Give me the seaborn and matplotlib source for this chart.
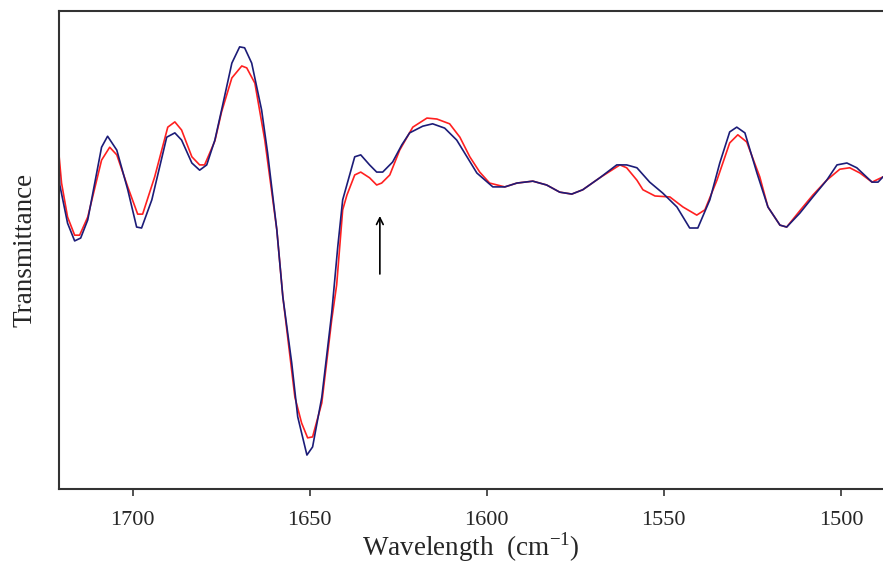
import pandas as pd
import matplotlib
matplotlib.use('Agg')
import matplotlib.pyplot as plt
import seaborn as sns

# Espectro 1 (azul)
wn_azul = [1720.9, 1720.6, 1718.4, 1716.4, 1714.7, 1712.7, 1708.8, 1707.1, 1704.5, 1701.4,
           1698.9, 1697.5, 1694.6, 1690.4, 1688.1, 1686.2, 1683.3, 1681.1, 1679.1, 1676.8,
           1674.9, 1672.0, 1669.8, 1668.4, 1666.4, 1663.6, 1661.9, 1659.3, 1657.6, 1655.1,
           1653.4, 1650.8, 1649.2, 1646.6, 1643.8, 1642.1, 1640.7, 1637.3, 1635.6, 1633.1,
           1631.1, 1629.4, 1626.6, 1624.0, 1621.8, 1618.1, 1615.3, 1611.9, 1608.5, 1605.6,
           1602.8, 1598.3, 1594.9, 1591.5, 1587.0, 1583.1, 1579.4, 1576.0, 1572.9, 1568.1,
           1563.3, 1560.5, 1557.6, 1554.0, 1550.3, 1546.3, 1542.7, 1540.4, 1537.0, 1534.2,
           1531.4, 1529.4, 1527.1, 1523.7, 1520.6, 1517.2, 1515.3, 1511.6, 1507.9, 1504.0,
           1501.1, 1498.3, 1495.5, 1491.2, 1489.5, 1488.1]
t_azul = [68.8, 63.6, 55.6, 51.9, 52.5, 56.3, 71.5, 73.8, 70.9, 62.6,
          54.8, 54.6, 60.5, 73.6, 74.5, 73.0, 68.2, 66.7, 67.8, 73.0,
          79.3, 89.1, 92.5, 92.3, 89.1, 79.3, 70.3, 54.2, 40.2, 26.4,
          15.1, 7.1, 8.8, 19.2, 36.8, 50.6, 60.5, 69.5, 69.9, 67.8,
          66.3, 66.3, 68.4, 72.0, 74.5, 75.9, 76.4, 75.5, 73.0, 69.5,
          66.1, 63.2, 63.2, 64.0, 64.4, 63.6, 62.1, 61.7, 62.6, 65.1,
          67.8, 67.8, 67.2, 64.2, 61.9, 59.0, 54.6, 54.6, 60.5, 68.2,
          74.7, 75.7, 74.5, 66.1, 59.0, 55.2, 54.8, 57.7, 61.1, 64.6,
          67.8, 68.2, 67.2, 64.2, 64.2, 65.3]

# Espectro 2 (rojo)
wn_rojo = [1720.9, 1720.1, 1718.4, 1716.4, 1715.0, 1712.7, 1708.8, 1706.5, 1704.5, 1701.4,
           1698.6, 1697.2, 1693.8, 1690.1, 1688.1, 1686.2, 1683.3, 1681.1, 1679.7, 1676.8,
           1674.9, 1672.0, 1669.2, 1667.8, 1665.5, 1662.7, 1659.3, 1657.6, 1654.2, 1652.3,
           1650.6, 1649.2, 1646.6, 1643.8, 1642.4, 1640.7, 1639.5, 1637.3, 1635.6, 1633.1,
           1631.1, 1629.7, 1627.4, 1624.6, 1620.9, 1616.9, 1614.1, 1610.5, 1607.6, 1604.8,
           1602.0, 1599.2, 1594.9, 1591.5, 1587.0, 1583.1, 1579.4, 1576.0, 1572.9, 1568.1,
           1562.4, 1560.5, 1557.6, 1555.9, 1552.5, 1548.3, 1544.6, 1540.7, 1538.4, 1535.0,
           1531.4, 1529.1, 1526.6, 1522.9, 1520.6, 1517.2, 1515.3, 1511.6, 1507.9, 1504.0,
           1500.3, 1497.5, 1494.6, 1491.2, 1488.1]
t_rojo = [70.5, 64.0, 56.9, 53.1, 53.1, 56.9, 68.8, 71.5, 69.9, 63.2,
          57.5, 57.5, 65.3, 75.7, 76.8, 75.1, 69.5, 67.8, 67.8, 72.8,
          78.9, 86.0, 88.5, 88.1, 84.9, 73.0, 54.2, 40.2, 19.2, 13.8,
          10.7, 10.9, 18.0, 35.4, 42.7, 58.4, 61.5, 65.7, 66.3, 65.1,
          63.6, 64.0, 65.7, 70.9, 75.7, 77.6, 77.4, 76.4, 73.6, 69.5,
          66.3, 64.0, 63.2, 64.0, 64.4, 63.6, 62.1, 61.7, 62.6, 65.1,
          67.8, 67.2, 64.6, 62.6, 61.3, 61.1, 59.0, 57.3, 58.4, 64.6,
          72.4, 74.1, 72.6, 65.3, 59.0, 55.2, 54.8, 58.2, 61.5, 64.6,
          66.9, 67.2, 66.1, 64.2, 65.3]

ticks_x = [1700, 1650, 1600, 1550, 1500]

azul = pd.DataFrame({'wn': wn_azul, 'T': t_azul})
rojo = pd.DataFrame({'wn': wn_rojo, 'T': t_rojo})

sns.set_style('white')
plt.rcParams['font.family'] = ['Liberation Serif', 'DejaVu Serif']
plt.rcParams['mathtext.fontset'] = 'custom'
plt.rcParams['mathtext.rm'] = 'Liberation Serif'

fig = plt.figure(figsize=(8.83, 5.64), dpi=100)
ax = fig.add_axes([0.0665, 0.133, 0.9335, 0.8475])

sns.lineplot(data=rojo, x='wn', y='T', color='#ff2020', linewidth=1.2, estimator=None, ax=ax)
sns.lineplot(data=azul, x='wn', y='T', color='#1c1c78', linewidth=1.2, estimator=None, ax=ax)

# flecha
ax.annotate('', xy=(1630.2, 57.7), xytext=(1630.2, 44.4),
            arrowprops=dict(arrowstyle='->', color='black', lw=1.2, mutation_scale=12))

ax.set_xlim(1720.9, 1488.1)
ax.set_ylim(0, 100)
ax.set_xticks(ticks_x)
ax.set_xticklabels([str(t) for t in ticks_x], fontsize=16)
ax.set_yticks([])
ax.tick_params(axis='x', direction='out', length=5, width=1.2, color='#333333', pad=11, bottom=True)

for s in ['left', 'bottom', 'top']:
    ax.spines[s].set_color('#333333')
    ax.spines[s].set_linewidth(1.5)
ax.spines['right'].set_visible(False)

ax.set_xlabel(r'Wavelength  (cm$^{\mathregular{-1}}$)', fontsize=19.5, labelpad=0)
ax.set_ylabel('Transmittance', fontsize=19.5, labelpad=15)

plt.savefig('out.png', dpi=100)
